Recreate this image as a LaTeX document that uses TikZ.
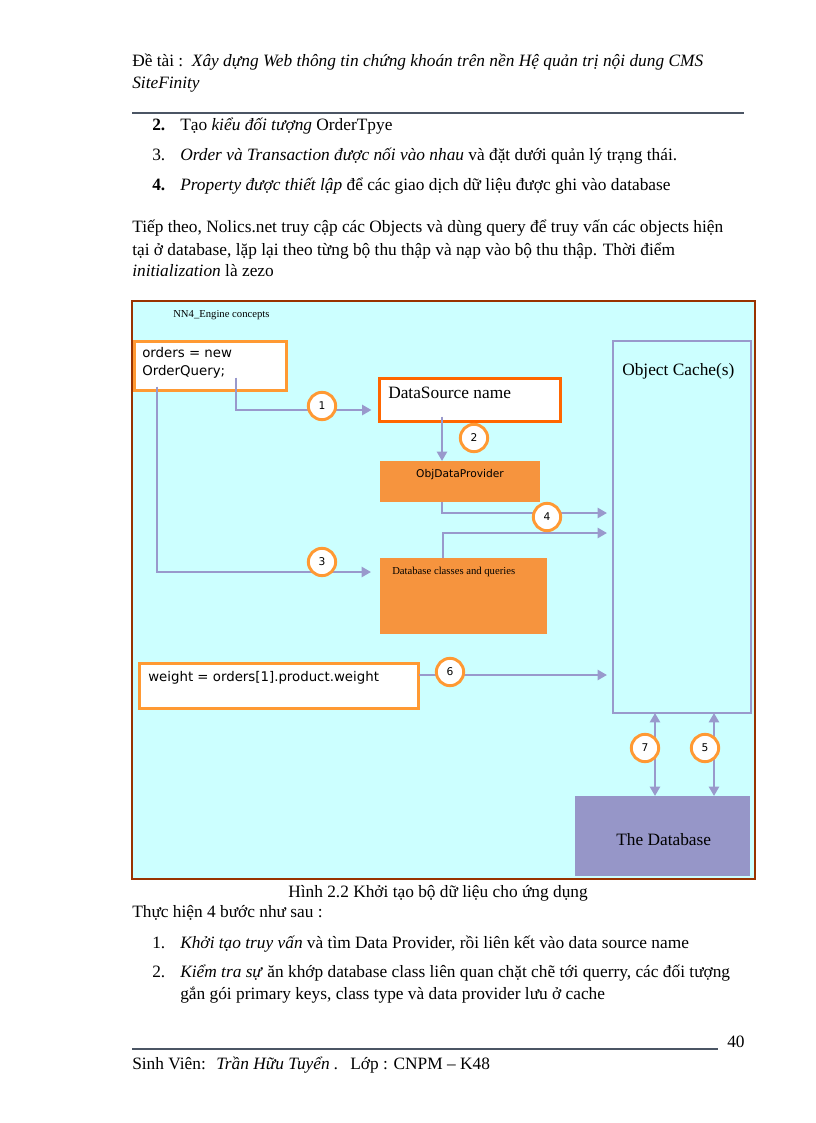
\documentclass[tikz,border=0pt]{standalone}
\usepackage{fontspec}
\setmainfont{Liberation Serif}
\newfontfamily\verd{DejaVu Sans}
\usetikzlibrary{arrows.meta,calc}
\definecolor{cyanbg}{RGB}{204,255,255}
\definecolor{framebrown}{RGB}{153,51,0}
\definecolor{orangeline}{RGB}{255,153,51}
\definecolor{redorange}{RGB}{255,102,0}
\definecolor{orangefill}{RGB}{246,148,62}
\definecolor{lav}{RGB}{153,153,204}
\definecolor{dbfill}{RGB}{150,150,200}
\definecolor{rulecol}{RGB}{75,85,100}
\tikzset{
  txt/.style={inner sep=0pt, anchor=base west},
  box/.style={inner sep=0pt, outer sep=0pt},
  codebox/.style={box, draw=orangeline, fill=white, line width=2.25pt},
  orbox/.style={box, fill=orangefill},
  num/.style={circle, draw=orangeline, fill=white, line width=2.2pt, minimum size=20.5pt, inner sep=0pt, font=\verd\fontsize{8}{9}\selectfont},
  arr/.style={draw=lav, line width=2.2pt, -{Triangle[length=7pt,width=7.5pt]}},
  dblarr/.style={draw=lav, line width=2.2pt, {Triangle[length=7pt,width=7.5pt]}-{Triangle[length=7pt,width=7.5pt]}},
  rulestyle/.style={draw=rulecol, line width=2.2pt}
}
\begin{document}
\begin{tikzpicture}[x=0.75pt,y=-0.75pt,font=\fontsize{13}{15}\selectfont]
\useasboundingbox[fill=white] (0,0) rectangle (816,1123);

% header
\node[txt] (h1) at (132,67) {Đề tài :\ \ \textit{Xây dựng Web thông tin chứng khoán trên nền Hệ quản trị nội dung CMS}};
\node[txt] (h2) at (132,89) {\textit{SiteFinity}};
\draw[rulestyle] (132,113) -- (744,113);

% list
\node[txt] (n2) at (152,131) {\textbf{2.}};
\node[txt] (t2) at (180,131) {Tạo \textit{kiểu đối tượng} OrderTpye};
\node[txt] (n3) at (152,161) {3.};
\node[txt] (t3) at (180,161) {\textit{Order và Transaction được nối vào nhau} và đặt dưới quản lý trạng thái.};
\node[txt] (n4) at (152,191) {\textbf{4.}};
\node[txt] (t4) at (180,191) {\textit{Property được thiết lập} để các giao dịch dữ liệu được ghi vào database};

% paragraph
\node[txt] (p1) at (132,233) {Tiếp theo, Nolics.net truy cập các Objects và dùng query để truy vấn các objects hiện};
\node[txt] (p2) at (132,255) {tại ở database, lặp lại theo từng bộ thu thập và nạp vào bộ thu thập. Thời điểm};
\node[txt] (p3) at (132,276) {\textit{initialization} là zezo};

% diagram frame
\node[box, draw=framebrown, fill=cyanbg, line width=1.5pt, minimum width=467.25pt, minimum height=433.5pt] (frame) at (443.5,590) {};
\node[txt, font=\fontsize{8}{9}\selectfont] (title) at (173,317) {NN4\_Engine concepts};

% boxes
\node[codebox, minimum width=114pt, minimum height=36.75pt] (code1) at (210.5,366) {};
\node[txt, font=\verd\fontsize{10}{13.5}\selectfont, align=left, anchor=north west] (code1t) at (142,347) {orders = new\\OrderQuery;};
\node[box, draw=redorange, fill=white, line width=2.25pt, minimum width=135.75pt, minimum height=32.25pt] (ds) at (470,400) {};
\node[txt, font=\fontsize{13}{15}\selectfont] (dst) at (388,398) {DataSource name};
\node[orbox, minimum width=120pt, minimum height=30.75pt] (odp) at (460,481.5) {};
\node[inner sep=0pt, font=\verd\fontsize{8}{9}\selectfont] (odpt) at (460,475) {ObjDataProvider};
\node[orbox, minimum width=125.25pt, minimum height=57pt] (dbc) at (463.5,596) {};
\node[txt, font=\fontsize{8}{9}\selectfont] (dbct) at (392,574) {Database classes and queries};
\node[codebox, minimum width=209pt, minimum height=33.75pt] (code2) at (279,686) {};
\node[txt, font=\verd\fontsize{10}{12}\selectfont] (code2t) at (148,681) {weight = orders[1].product.weight};
\node[box, draw=lav, line width=1.5pt, minimum width=103.5pt, minimum height=279pt] (cache) at (682,527) {};
\node[txt, font=\fontsize{13}{15}\selectfont] (cachet) at (622,375) {Object Cache(s)};
\node[box, fill=dbfill, minimum width=131.25pt, minimum height=60pt] (db) at (662.5,836) {};
\node[txt, font=\fontsize{13}{15}\selectfont] (dbt) at (616,845) {The Database};

% connectors
\coordinate (s1) at ($(code1.south west)+(101.5,-13)$);
\coordinate (e1) at ($(ds.west)+(-8,10)$);
\draw[arr] (s1) |- (e1);
\coordinate (s3) at ($(code1.south west)+(22.5,-4)$);
\coordinate (e3) at ($(dbc.west)+(-9,-24)$);
\draw[arr] (s3) |- (e3);
\coordinate (s2) at ($(ds.south west)+(62.5,-5)$);
\draw[arr] (s2) -- (s2 |- odp.north);
\coordinate (s4a) at ($(odp.south west)+(62,0)$);
\coordinate (e4a) at ($(cache.west)+(-6,-14)$);
\draw[arr] (s4a) |- (e4a);
\coordinate (s4b) at ($(dbc.north west)+(63,0)$);
\coordinate (e4b) at ($(cache.west)+(-6,6)$);
\draw[arr] (s4b) |- (e4b);
\coordinate (s6) at ($(code2.north east)+(1,11.5)$);
\coordinate (e6) at ($(cache.west)+(-6,148)$);
\draw[arr] (s6) -- (e6);
\coordinate (s7) at ($(cache.south west)+(42,0)$);
\draw[dblarr] (s7) -- (s7 |- db.north);
\coordinate (s5) at ($(cache.south west)+(101,0)$);
\draw[dblarr] (s5) -- (s5 |- db.north);

% numbered circles
\node[num] (c1) at (322,406) {1};
\node[num] (c2) at (474,438) {2};
\node[num] (c3) at (322,562) {3};
\node[num] (c4) at (547,517) {4};
\node[num] (c6) at (450,672) {6};
\node[num] (c7) at (645,748) {7};
\node[num] (c5) at (705,748) {5};

% caption and text
\node[inner sep=0pt, anchor=base] (cap) at (438,897) {Hình 2.2 Khởi tạo bộ dữ liệu cho ứng dụng};
\node[txt] (q0) at (132,917) {Thực hiện 4 bước như sau :};
\node[txt] (m1) at (152,948) {1.};
\node[txt] (q1) at (180,948) {\textit{Khởi tạo truy vấn} và tìm Data Provider, rồi liên kết vào data source name};
\node[txt] (m2) at (152,977) {2.};
\node[txt] (q2) at (180,977) {\textit{Kiểm tra sự} ăn khớp database class liên quan chặt chẽ tới querry, các đối tượng};
\node[txt] (q3) at (180,999) {gắn gói primary keys, class type và data provider lưu ở cache};

% footer
\node[txt] (pg) at (727,1047) {40};
\draw[rulestyle] (132,1049) -- (718,1049);
\node[txt] (f1) at (132,1069) {Sinh Viên:};
\node[txt] (f2) at (216,1069) {\textit{Trần Hữu Tuyển .}};
\node[txt] (f3) at (350,1069) {Lớp : CNPM – K48};
\end{tikzpicture}
\end{document}
